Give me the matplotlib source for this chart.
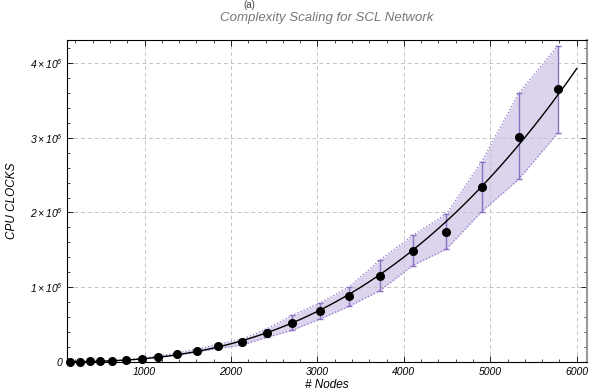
import numpy as np
import matplotlib
matplotlib.use("Agg")
import matplotlib.pyplot as plt
from matplotlib.ticker import MultipleLocator, FuncFormatter

plt.rcParams['font.family'] = ['Liberation Sans', 'DejaVu Sans']
plt.rcParams['mathtext.fontset'] = 'custom'
plt.rcParams['mathtext.rm'] = 'Liberation Sans:italic'
plt.rcParams['mathtext.it'] = 'Liberation Sans:italic'

# number of nodes and measured CPU clocks (millions)
nodes = [140, 256, 371, 487, 626, 788, 973, 1158, 1377, 1608, 1855, 2126,
         2412, 2704, 3028, 3363, 3725, 4101, 4492, 4901, 5329, 5780]
clocks = [0.001, 0.002, 0.005, 0.009, 0.015, 0.025, 0.040, 0.070, 0.100, 0.150, 0.205, 0.260,
          0.385, 0.520, 0.675, 0.874, 1.154, 1.479, 1.740, 2.339, 3.008, 3.651]
clocks_low = [0.001, 0.002, 0.004, 0.008, 0.013, 0.022, 0.035, 0.062, 0.088, 0.130, 0.178, 0.222,
              0.325, 0.419, 0.572, 0.740, 0.954, 1.289, 1.509, 2.012, 2.446, 3.062]
clocks_high = [0.001, 0.003, 0.006, 0.010, 0.017, 0.028, 0.046, 0.080, 0.115, 0.172, 0.235, 0.300,
               0.438, 0.620, 0.786, 1.000, 1.365, 1.691, 1.981, 2.681, 3.597, 4.234]

nodes = np.array(nodes)
y = np.array(clocks) * 1e6
lo = np.array(clocks_low) * 1e6
hi = np.array(clocks_high) * 1e6

purple = '#8a70c0'

fig = plt.figure(figsize=(5.92, 3.92), dpi=100)
ax = fig.add_axes([0.1127, 0.0753, 0.8783, 0.8227])

# shaded band between lower and upper values
ax.fill_between(nodes, lo, hi, color='#dcd4ec', lw=0, zorder=1)
ax.plot(nodes, lo, ls=':', color='#9178d0', lw=0.9, zorder=2)
ax.plot(nodes, hi, ls=':', color='#9178d0', lw=0.9, zorder=2)
ax.errorbar(nodes, y, yerr=[y - lo, hi - y], fmt='none', ecolor=purple,
            elinewidth=1.0, capsize=2.5, capthick=1.0, zorder=3)

# power-law fit of the measurements (log-log)
b, a = np.polyfit(np.log(nodes), np.log(y), 1, w=np.sqrt(y / y.max()))
xf = np.linspace(1, 6000, 300)
ax.plot(xf, np.exp(a) * xf ** b, color='black', lw=1.0, zorder=4)

ax.plot(nodes, y, 'o', color='black', ms=5.5, zorder=5, clip_on=False)

ax.set_xlim(100, 6115)
ax.set_ylim(-0.01e6, 4.31e6)

ax.xaxis.set_major_locator(MultipleLocator(1000))
ax.xaxis.set_minor_locator(MultipleLocator(200))
ax.yaxis.set_major_locator(MultipleLocator(1e6))
ax.yaxis.set_minor_locator(MultipleLocator(0.2e6))

def yfmt(v, pos):
    n = int(round(v / 1e6))
    if n == 0:
        return '0'
    return r'$%d\times10^{6}$' % n

ax.yaxis.set_major_formatter(FuncFormatter(yfmt))
ax.xaxis.set_major_formatter(FuncFormatter(lambda v, p: '%d' % v))

ax.tick_params(which='both', direction='in', top=True, right=True,
               labelsize=7.5, pad=3)
ax.tick_params(which='major', length=4, width=0.6)
ax.tick_params(which='minor', length=2, width=0.5)
for lab in ax.get_xticklabels() + ax.get_yticklabels():
    lab.set_fontstyle('italic')

ax.grid(True, which='major', ls=(0, (4, 3)), color='#c4c4c4', lw=0.7)
for s in ax.spines.values():
    s.set_linewidth(0.8)
ax.spines['right'].set_color('#999999')
ax.spines['right'].set_linewidth(1.5)

ax.set_title('Complexity Scaling for SCL Network', fontsize=9.5, style='italic',
             color='#777777', pad=14)
ax.set_xlabel('# Nodes', fontsize=8.5, style='italic', labelpad=2)
ax.set_ylabel('CPU CLOCKS', fontsize=8.5, style='italic', labelpad=8)

fig.text(249 / 592, 0.999, '(a)', fontsize=7, ha='center', va='top', color='#444444')

fig.savefig('out.png', dpi=100)
